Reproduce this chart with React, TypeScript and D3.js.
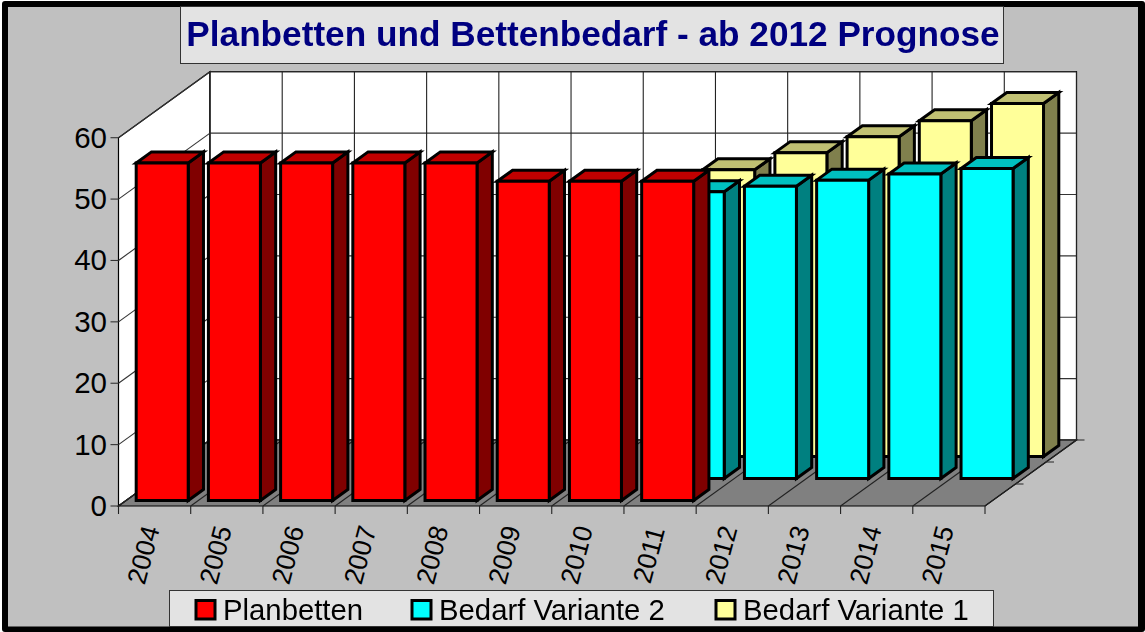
import React from "react";
import * as d3 from "d3";

const years = ["2004","2005","2006","2007","2008","2009","2010","2011","2012","2013","2014","2015"];
const planbetten = [55,55,55,55,55,52,52,52,null,null,null,null];
const variante2 = [null,null,null,null,null,null,null,46.7,47.6,48.6,49.6,50.5];
const variante1 = [null,null,null,null,null,null,null,46.7,49.5,52.1,54.7,57.5];
const yTicks = [0,10,20,30,40,50,60];
const seriesNames = ["Planbetten","Bedarf Variante 2","Bedarf Variante 1"];
const seriesFill = ["#FF0000","#00FFFF","#FFFF99"];
const seriesTop = ["#C00000","#00C0C0","#C0C073"];
const seriesSide = ["#800000","#008080","#80804D"];
const seriesData = [planbetten, variante2, variante1];
const title = "Planbetten und Bettenbedarf - ab 2012 Prognose";

const W = 1145, H = 632;
const FONT = "'Liberation Sans', Arial, sans-serif";
const x = d3.scaleBand<string>().domain(years).range([118.5, 985]).paddingInner(0).paddingOuter(0);
const y = d3.scaleLinear().domain([0, 60]).range([506, 137.7]);
const DX = 91.5, DY = -66;
// depth in [0,1] from the front of the floor to the back wall
const px = (xv: number, d: number) => xv + DX * d;
const py = (yv: number, d: number) => yv + DY * d;
const pts = (a: [number, number][]) => a.map(p => p.join(",")).join(" ");
const barInset = 10.1, barW = 52;
const rowStart = [0.083, 0.417, 0.75];
const rowDepth = 0.167;

export default function App() {
  const x0 = x.range()[0], x1 = x.range()[1];
  const y0 = y(0), yTop = y(60);
  const cats = [...years.map(c => x(c) as number), x1];
  const bars: React.ReactNode[] = [];
  [2, 1, 0].forEach(s => {
    years.forEach((c, i) => {
      const v = seriesData[s][i];
      if (v == null) return;
      const l = (x(c) as number) + barInset, r = l + barW;
      const d0 = rowStart[s], d1 = d0 + rowDepth;
      const top = y(v), bot = y(0);
      const P = (xv: number, yv: number, d: number): [number, number] => [px(xv, d), py(yv, d)];
      const common = { stroke: "#000", strokeWidth: 3, strokeLinejoin: "miter" as const };
      bars.push(
        <g key={s + "-" + c}>
          <polygon points={pts([P(r, top, d0), P(r, top, d1), P(r, bot, d1), P(r, bot, d0)])} fill={seriesSide[s]} {...common} />
          <polygon points={pts([P(l, top, d0), P(l, top, d1), P(r, top, d1), P(r, top, d0)])} fill={seriesTop[s]} {...common} />
          <polygon points={pts([P(l, top, d0), P(r, top, d0), P(r, bot, d0), P(l, bot, d0)])} fill={seriesFill[s]} {...common} />
        </g>
      );
    });
  });
  const legendPos = [[196, 223], [412, 439], [716, 743]];
  return (
    <svg width={W} height={H} viewBox={`0 0 ${W} ${H}`} style={{ position: "fixed", left: 0, top: 0, display: "block" }}>
      <rect x={2} y={1} width={W - 2} height={H - 1} rx={3} fill="#000" />
      <rect x={8} y={7} width={1130} height={619.5} fill="#C0C0C0" />
      {/* walls and floor */}
      <polygon points={pts([[x0, y0], [x0, yTop], [px(x0, 1), py(yTop, 1)], [px(x0, 1), py(y0, 1)]])} fill="#fff" stroke="#000" strokeWidth={1.2} />
      <polygon points={pts([[px(x0, 1), py(yTop, 1)], [px(x1, 1), py(yTop, 1)], [px(x1, 1), py(y0, 1)], [px(x0, 1), py(y0, 1)]])} fill="#fff" stroke="#000" strokeWidth={1.2} />
      <polygon points={pts([[x0, y0], [x1, y0], [px(x1, 1), py(y0, 1)], [px(x0, 1), py(y0, 1)]])} fill="#808080" stroke="#000" strokeWidth={1.2} />
      {/* gridlines */}
      {yTicks.map(t => (
        <g key={t} stroke="#333" strokeWidth={1.1}>
          <line x1={x0 - 8} x2={x0} y1={y(t)} y2={y(t)} />
          <line x1={x0} y1={y(t)} x2={px(x0, 1)} y2={py(y(t), 1)} />
          <line x1={px(x0, 1)} y1={py(y(t), 1)} x2={px(x1, 1)} y2={py(y(t), 1)} />
        </g>
      ))}
      {cats.map((c, i) => (
        <g key={i} stroke="#222" strokeWidth={1.1}>
          <line x1={c} y1={y0} x2={c} y2={y0 + 8} />
          <line x1={c} y1={y0} x2={px(c, 1)} y2={py(y0, 1)} />
          <line x1={px(c, 1)} y1={py(y0, 1)} x2={px(c, 1)} y2={py(yTop, 1)} />
        </g>
      ))}
      {[1 / 3, 2 / 3, 1].map(d => (
        <line key={d} x1={px(x1, d)} x2={px(x1, d) + 8} y1={py(y0, d)} y2={py(y0, d)} stroke="#333" strokeWidth={1.1} />
      ))}
      {bars}
      {/* y labels */}
      {yTicks.map(t => (
        <text key={t} x={107} y={y(t) + 10} textAnchor="end" fontFamily={FONT} fontSize={29.5} fill="#000">{t}</text>
      ))}
      {/* x labels */}
      {years.map(c => {
        const cx = (x(c) as number) + 25;
        return (
          <text key={c} transform={`translate(${cx},555) rotate(-75)`} textAnchor="middle" dominantBaseline="central" fontFamily={FONT} fontSize={26.5} fill="#000">{c}</text>
        );
      })}
      {/* title */}
      <rect x={180.5} y={6.5} width={823} height={57} fill="#E3E3E3" stroke="#333" strokeWidth={1} />
      <text x={593} y={46} textAnchor="middle" fontFamily={FONT} fontSize={35.2} fontWeight="bold" fill="#000080">{title}</text>
      {/* legend */}
      <rect x={169.5} y={590.5} width={824} height={36} fill="#E3E3E3" stroke="#333" strokeWidth={1} />
      {seriesNames.map((n, i) => (
        <g key={n}>
          <rect x={legendPos[i][0]} y={600.5} width={19} height={18.5} fill={seriesFill[i]} stroke="#000" strokeWidth={3} />
          <text x={legendPos[i][1]} y={620} fontFamily={FONT} fontSize={29.3} fill="#000">{n}</text>
        </g>
      ))}
    </svg>
  );
}
